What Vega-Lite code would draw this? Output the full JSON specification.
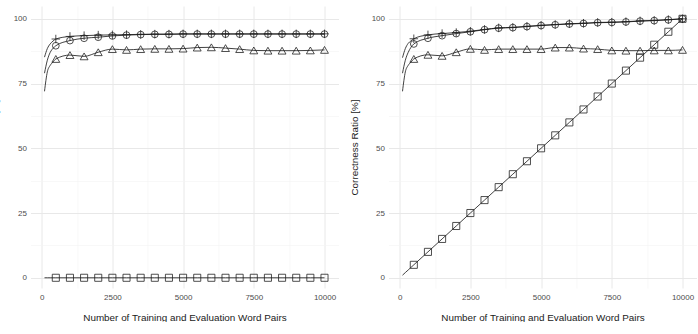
{
  "$schema": "https://vega.github.io/schema/vega-lite/v6.json",
  "padding": {"left": -10.5, "top": 6, "right": 0, "bottom": 0},
  "background": "white",
  "config": {
    "font": "Liberation Sans",
    "view": {"stroke": null},
    "axis": {
      "domain": false,
      "ticks": false,
      "labelColor": "#4d4d4d",
      "labelFontSize": 8,
      "titleFontSize": 9.9,
      "titleFontWeight": "normal",
      "titleColor": "#1a1a1a"
    }
  },
  "datasets": {
    "ratios": [
      {"p": "L", "n": 100, "s1": 85.2, "s2": 79.0, "s3": 72.0, "s4": 0},
      {"p": "L", "n": 200, "s1": 88.5, "s2": 84.0, "s3": 79.5, "s4": 0},
      {"p": "L", "n": 300, "s1": 90.3, "s2": 87.0, "s3": 82.0, "s4": 0},
      {"p": "L", "n": 400, "s1": 91.4, "s2": 88.6, "s3": 83.3, "s4": 0},
      {"p": "L", "n": 500, "s1": 92.2, "s2": 89.6, "s3": 84.5, "s4": 0},
      {"p": "L", "n": 1000, "s1": 93.2, "s2": 91.6, "s3": 86.0, "s4": 0},
      {"p": "L", "n": 1500, "s1": 93.5, "s2": 92.5, "s3": 85.5, "s4": 0},
      {"p": "L", "n": 2000, "s1": 93.7, "s2": 92.9, "s3": 87.1, "s4": 0},
      {"p": "L", "n": 2500, "s1": 93.8, "s2": 93.4, "s3": 88.3, "s4": 0},
      {"p": "L", "n": 3000, "s1": 93.9, "s2": 93.7, "s3": 88.0, "s4": 0},
      {"p": "L", "n": 3500, "s1": 94.0, "s2": 93.9, "s3": 88.3, "s4": 0},
      {"p": "L", "n": 4000, "s1": 94.1, "s2": 94.0, "s3": 88.4, "s4": 0},
      {"p": "L", "n": 4500, "s1": 94.1, "s2": 94.0, "s3": 88.4, "s4": 0},
      {"p": "L", "n": 5000, "s1": 94.2, "s2": 94.1, "s3": 88.5, "s4": 0},
      {"p": "L", "n": 5500, "s1": 94.2, "s2": 94.1, "s3": 88.9, "s4": 0},
      {"p": "L", "n": 6000, "s1": 94.2, "s2": 94.1, "s3": 89.0, "s4": 0},
      {"p": "L", "n": 6500, "s1": 94.2, "s2": 94.1, "s3": 88.7, "s4": 0},
      {"p": "L", "n": 7000, "s1": 94.2, "s2": 94.1, "s3": 88.3, "s4": 0},
      {"p": "L", "n": 7500, "s1": 94.2, "s2": 94.1, "s3": 87.8, "s4": 0},
      {"p": "L", "n": 8000, "s1": 94.2, "s2": 94.1, "s3": 87.7, "s4": 0},
      {"p": "L", "n": 8500, "s1": 94.2, "s2": 94.1, "s3": 87.7, "s4": 0},
      {"p": "L", "n": 9000, "s1": 94.2, "s2": 94.1, "s3": 87.7, "s4": 0},
      {"p": "L", "n": 9500, "s1": 94.2, "s2": 94.1, "s3": 87.8, "s4": 0},
      {"p": "L", "n": 10000, "s1": 94.2, "s2": 94.1, "s3": 88.0, "s4": 0},
      {"p": "R", "n": 100, "s1": 85.0, "s2": 79.0, "s3": 72.0, "s4": 1},
      {"p": "R", "n": 200, "s1": 88.5, "s2": 84.0, "s3": 79.5, "s4": 2},
      {"p": "R", "n": 300, "s1": 90.5, "s2": 87.0, "s3": 82.0, "s4": 3},
      {"p": "R", "n": 400, "s1": 91.5, "s2": 89.0, "s3": 83.3, "s4": 4},
      {"p": "R", "n": 500, "s1": 92.3, "s2": 90.3, "s3": 84.5, "s4": 5},
      {"p": "R", "n": 1000, "s1": 93.8, "s2": 92.5, "s3": 86.1, "s4": 10},
      {"p": "R", "n": 1500, "s1": 94.3, "s2": 93.5, "s3": 85.7, "s4": 15},
      {"p": "R", "n": 2000, "s1": 94.7, "s2": 94.3, "s3": 87.1, "s4": 20},
      {"p": "R", "n": 2500, "s1": 95.2, "s2": 95.0, "s3": 88.4, "s4": 25},
      {"p": "R", "n": 3000, "s1": 95.9, "s2": 95.8, "s3": 88.0, "s4": 30},
      {"p": "R", "n": 3500, "s1": 96.5, "s2": 96.4, "s3": 88.3, "s4": 35},
      {"p": "R", "n": 4000, "s1": 96.7, "s2": 96.6, "s3": 88.3, "s4": 40},
      {"p": "R", "n": 4500, "s1": 97.1, "s2": 97.0, "s3": 88.3, "s4": 45},
      {"p": "R", "n": 5000, "s1": 97.5, "s2": 97.4, "s3": 88.3, "s4": 50},
      {"p": "R", "n": 5500, "s1": 97.8, "s2": 97.7, "s3": 88.9, "s4": 55},
      {"p": "R", "n": 6000, "s1": 98.1, "s2": 98.0, "s3": 88.9, "s4": 60},
      {"p": "R", "n": 6500, "s1": 98.3, "s2": 98.2, "s3": 88.5, "s4": 65},
      {"p": "R", "n": 7000, "s1": 98.6, "s2": 98.5, "s3": 88.3, "s4": 70},
      {"p": "R", "n": 7500, "s1": 98.7, "s2": 98.6, "s3": 87.8, "s4": 75},
      {"p": "R", "n": 8000, "s1": 98.9, "s2": 98.8, "s3": 87.7, "s4": 80},
      {"p": "R", "n": 8500, "s1": 99.2, "s2": 99.1, "s3": 87.7, "s4": 85},
      {"p": "R", "n": 9000, "s1": 99.4, "s2": 99.3, "s3": 87.8, "s4": 90},
      {"p": "R", "n": 9500, "s1": 99.7, "s2": 99.6, "s3": 87.8, "s4": 95},
      {"p": "R", "n": 10000, "s1": 100.0, "s2": 100.0, "s3": 88.0, "s4": 100}
    ]
  },
  "hconcat": [
    {
      "width": 308,
      "height": 282,
      "data": {"name": "ratios"},
      "transform": [
        {"filter": "datum.p === 'L'"},
        {"fold": ["s1", "s2", "s3", "s4"], "as": ["series", "ratio"]}
      ],
      "encoding": {
        "x": {
          "field": "n", "type": "quantitative",
          "scale": {"domain": [-395, 10495], "nice": false, "zero": false},
          "axis": {
            "title": "Number of Training and Evaluation Word Pairs",
            "values": [0, 1250, 2500, 3750, 5000, 6250, 7500, 8750, 10000],
            "format": "d",
            "labelExpr": "datum.value % 2500 === 0 ? datum.label : ''",
            "labelPadding": 5,
            "titlePadding": 11,
            "gridColor": {"condition": {"test": "datum.value % 2500 === 0", "value": "#e8e8e8"}, "value": "#f3f3f3"},
            "gridWidth": {"condition": {"test": "datum.value % 2500 === 0", "value": 1}, "value": 0.6}
          }
        },
        "y": {
          "field": "ratio", "type": "quantitative",
          "scale": {"domain": [-3.95, 104.95], "nice": false, "zero": false},
          "axis": {
            "title": "Correctness Ratio [%]",
            "values": [0, 12.5, 25, 37.5, 50, 62.5, 75, 87.5, 100],
            "labelExpr": "datum.value % 25 === 0 ? datum.label : ''",
            "labelPadding": 4,
            "titlePadding": 13.5,
            "gridColor": {"condition": {"test": "datum.value % 25 === 0", "value": "#e8e8e8"}, "value": "#f3f3f3"},
            "gridWidth": {"condition": {"test": "datum.value % 25 === 0", "value": 1}, "value": 0.6}
          }
        }
      },
      "layer": [
        {
          "mark": {"type": "line", "color": "#111111", "strokeWidth": 0.8, "interpolate": "monotone"},
          "encoding": {"detail": {"field": "series"}}
        },
        {
          "transform": [{"filter": "datum.n % 500 === 0"}],
          "mark": {"type": "point", "filled": false, "color": "#222222", "strokeWidth": 0.8, "opacity": 1},
          "encoding": {
            "shape": {"field": "series", "legend": null, "scale": {"domain": ["s1", "s2", "s3", "s4"], "range": ["M-1,0H1M0,-1V1", "circle", "triangle-up", "square"]}},
            "size": {"field": "series", "legend": null, "scale": {"type": "ordinal", "domain": ["s1", "s2", "s3", "s4"], "range": [72, 46, 62, 50]}}
          }
        }
      ]
    },
    {
      "width": 308,
      "height": 282,
      "data": {"name": "ratios"},
      "transform": [
        {"filter": "datum.p === 'R'"},
        {"fold": ["s1", "s2", "s3", "s4"], "as": ["series", "ratio"]}
      ],
      "encoding": {
        "x": {
          "field": "n", "type": "quantitative",
          "scale": {"domain": [-395, 10495], "nice": false, "zero": false},
          "axis": {
            "title": "Number of Training and Evaluation Word Pairs",
            "values": [0, 1250, 2500, 3750, 5000, 6250, 7500, 8750, 10000],
            "format": "d",
            "labelExpr": "datum.value % 2500 === 0 ? datum.label : ''",
            "labelPadding": 5,
            "titlePadding": 11,
            "gridColor": {"condition": {"test": "datum.value % 2500 === 0", "value": "#e8e8e8"}, "value": "#f3f3f3"},
            "gridWidth": {"condition": {"test": "datum.value % 2500 === 0", "value": 1}, "value": 0.6}
          }
        },
        "y": {
          "field": "ratio", "type": "quantitative",
          "scale": {"domain": [-3.95, 104.95], "nice": false, "zero": false},
          "axis": {
            "title": "Correctness Ratio [%]",
            "values": [0, 12.5, 25, 37.5, 50, 62.5, 75, 87.5, 100],
            "labelExpr": "datum.value % 25 === 0 ? datum.label : ''",
            "labelPadding": 4,
            "titlePadding": 12,
            "gridColor": {"condition": {"test": "datum.value % 25 === 0", "value": "#e8e8e8"}, "value": "#f3f3f3"},
            "gridWidth": {"condition": {"test": "datum.value % 25 === 0", "value": 1}, "value": 0.6}
          }
        }
      },
      "layer": [
        {
          "mark": {"type": "line", "color": "#111111", "strokeWidth": 0.8, "interpolate": "monotone"},
          "encoding": {"detail": {"field": "series"}}
        },
        {
          "transform": [{"filter": "datum.n % 500 === 0"}],
          "mark": {"type": "point", "filled": false, "color": "#222222", "strokeWidth": 0.8, "opacity": 1},
          "encoding": {
            "shape": {"field": "series", "legend": null, "scale": {"domain": ["s1", "s2", "s3", "s4"], "range": ["M-1,0H1M0,-1V1", "circle", "triangle-up", "square"]}},
            "size": {"field": "series", "legend": null, "scale": {"type": "ordinal", "domain": ["s1", "s2", "s3", "s4"], "range": [72, 46, 62, 50]}}
          }
        }
      ]
    }
  ],
  "spacing": 50,
  "bounds": "flush",
  "resolve": {"scale": {"shape": "independent", "size": "independent"}}
}
